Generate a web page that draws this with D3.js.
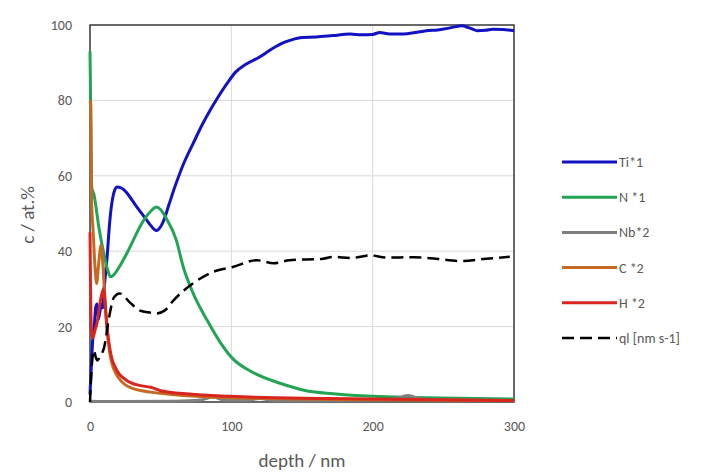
<!DOCTYPE html>
<html>
<head>
<meta charset="utf-8">
<script src="https://cdn.jsdelivr.net/npm/d3@7"></script>
<style>
  body { margin: 0; background: #fff; }
  text { font-family: Calibri, Carlito, "Open Sans", "Noto Sans", sans-serif; fill: #595959; }
</style>
</head>
<body>
<svg id="chart"></svg>
<script>
// depth (nm) / concentration (at.%)
const tiDepth = [0, 1, 2, 3, 4, 5, 6, 7, 8, 9, 10, 12, 14, 16, 19, 22, 26, 30, 34, 38, 42, 47, 52, 56, 60, 66, 73, 80, 85, 90, 97, 103, 110, 120, 128, 135, 142, 150, 160, 172, 184, 192, 200, 205, 212, 222, 230, 238, 246, 253, 258, 263, 268, 274, 280, 285, 292, 300];
const tiVal   = [2, 10, 17, 20, 25, 26, 22, 24, 26, 25, 30, 38, 48, 54, 57, 56.8, 55.5, 53.4, 51.3, 49.3, 47.3, 45.5, 48, 52.5, 57, 63, 68.6, 74, 77.4, 80.5, 84.5, 87.5, 89.5, 91.5, 93.5, 95, 96, 96.7, 96.8, 97.2, 97.6, 97.4, 97.5, 98, 97.6, 97.6, 98, 98.5, 98.7, 99.1, 99.5, 99.8, 99.3, 98.5, 98.6, 98.9, 98.8, 98.5];

const nDepth = [0, 0.5, 1.2, 2.8, 6.4, 10, 12.5, 14.5, 17, 21, 26, 31, 37, 43, 47, 50, 54, 61, 66, 73, 83, 92, 101, 115, 135, 153, 172, 200, 230, 260, 300];
const nVal   = [93, 78, 57, 55, 46, 39, 35, 33.2, 33.8, 36, 39.4, 43.2, 47.6, 50.6, 51.7, 51, 48.7, 43, 35.8, 28.8, 21.6, 15.9, 11.5, 7.9, 4.9, 3, 2.2, 1.5, 1.2, 1, 0.8];

const nbDepth = [0, 20, 60, 78, 87, 95, 110, 120, 130, 150, 200, 215, 225, 235, 260, 300];
const nbVal   = [0.2, 0.1, 0.2, 0.5, 1.3, 0.5, 0.4, 0.9, 0.4, 0.3, 0.5, 0.8, 1.7, 0.8, 0.5, 0.4];

const cDepth = [0, 0.5, 1, 2.3, 3.5, 4.7, 6.2, 7.8, 9.2, 10.6, 14, 20, 30, 50, 100, 200, 300];
const cVal   = [80, 79, 55, 44.7, 36, 31.4, 37, 41.6, 36, 27, 13, 6.5, 3.6, 2.3, 1.1, 0.6, 0.3];

const hDepth = [0, 0.4, 1, 2, 3.5, 5, 6.5, 8, 9.5, 12, 14.6, 19, 26, 35, 43, 50, 70, 100, 168, 300];
const hVal   = [45, 30, 19, 17, 19, 21, 25, 28, 30, 20, 13, 8.4, 5.7, 4.4, 3.9, 3, 2.1, 1.5, 0.9, 0.4];

const qlDepth = [0, 1, 2.8, 4, 5.2, 7, 10, 13.5, 17, 21, 28, 35, 41, 47, 53, 58, 64, 73, 87, 101, 118, 130, 141, 165, 172, 185, 198, 210, 229, 245, 262, 280, 297];
const qlVal   = [0, 8, 13.7, 12, 11, 12, 14.5, 22.5, 27.8, 28.8, 26.5, 24.3, 23.8, 23.5, 24.3, 26.5, 28.8, 31.5, 34.5, 35.8, 37.6, 36.8, 37.6, 38, 38.5, 38.2, 38.9, 38.3, 38.4, 38, 37.4, 38, 38.5];

const seriesNames  = ["Ti*1", "N *1", "Nb*2", "C *2", "H *2", "ql [nm s-1]"];
const seriesColors = ["#1212c4", "#23a455", "#7f7f7f", "#c46a22", "#d8261f", "#000000"];
const xTicks = [0, 100, 200, 300];
const yTicks = [0, 20, 40, 60, 80, 100];

const series = [
  { depth: tiDepth, val: tiVal },
  { depth: nDepth, val: nVal },
  { depth: nbDepth, val: nbVal },
  { depth: cDepth, val: cVal },
  { depth: hDepth, val: hVal },
  { depth: qlDepth, val: qlVal, dash: "12,6" }
];

const W = 707, H = 472;
const m = { left: 90, right: 193, top: 25, bottom: 70 };

const svg = d3.select("#chart").attr("width", W).attr("height", H);

const x = d3.scaleLinear().domain([0, 300]).range([m.left, W - m.right]);
const y = d3.scaleLinear().domain([0, 100]).range([H - m.bottom, m.top]);

// gridlines
svg.append("g")
  .selectAll("line.gy")
  .data(yTicks)
  .enter().append("line")
  .attr("x1", x(0)).attr("x2", x(300))
  .attr("y1", d => y(d)).attr("y2", d => y(d))
  .attr("stroke", "#d9d9d9").attr("stroke-width", 1);

svg.append("g")
  .selectAll("line.gx")
  .data(xTicks)
  .enter().append("line")
  .attr("x1", d => x(d)).attr("x2", d => x(d))
  .attr("y1", y(0)).attr("y2", y(100))
  .attr("stroke", "#d9d9d9").attr("stroke-width", 1);

// axes (labels only, lines drawn as frame)
let xAxis = svg.append("g")
  .attr("transform", "translate(0," + y(0) + ")")
  .call(d3.axisBottom(x).tickValues(xTicks).tickSize(0).tickPadding(19));
xAxis.select(".domain").remove();
xAxis.selectAll("text").style("font-size", "14px").attr("fill", "#595959");

let yAxis = svg.append("g")
  .attr("transform", "translate(" + x(0) + ",0)")
  .call(d3.axisLeft(y).tickValues(yTicks).tickSize(0).tickPadding(18));
yAxis.select(".domain").remove();
yAxis.selectAll("text").style("font-size", "14px").attr("fill", "#595959");

// frame
svg.append("rect")
  .attr("x", x(0)).attr("y", y(100))
  .attr("width", x(300) - x(0)).attr("height", y(0) - y(100))
  .attr("fill", "none").attr("stroke", "#222").attr("stroke-width", 1.3);

// lines
const line = d3.line()
  .x(d => x(d[0]))
  .y(d => y(d[1]))
  .curve(d3.curveMonotoneX);

series.forEach((s, i) => {
  const pts = s.depth.map((d, j) => [d, s.val[j]]);
  svg.append("path")
    .datum(pts)
    .attr("d", line)
    .attr("fill", "none")
    .attr("stroke", seriesColors[i])
    .attr("stroke-width", i == 5 ? 2.5 : 3)
    .attr("stroke-dasharray", s.dash || null)
    .attr("stroke-linejoin", "round");
});

// axis titles
svg.append("text")
  .attr("x", 302).attr("y", 467)
  .attr("text-anchor", "middle")
  .style("font-size", "19px")
  .text("depth / nm");

svg.append("text")
  .attr("transform", "translate(34,215) rotate(-90)")
  .attr("text-anchor", "middle")
  .style("font-size", "19px")
  .text("c / at.%");

// legend
const leg = svg.append("g").selectAll("g")
  .data(seriesNames)
  .enter().append("g")
  .attr("transform", (d, i) => "translate(562," + (162 + i * 35.2) + ")");

leg.append("line")
  .attr("x1", 0).attr("x2", 55)
  .attr("stroke", (d, i) => seriesColors[i])
  .attr("stroke-width", (d, i) => i == 5 ? 2.5 : 3)
  .attr("stroke-dasharray", (d, i) => i == 5 ? "12,6" : null);

leg.append("text")
  .attr("x", 57).attr("dy", "0.35em")
  .style("font-size", "14px")
  .text(d => d);
</script>
</body>
</html>
